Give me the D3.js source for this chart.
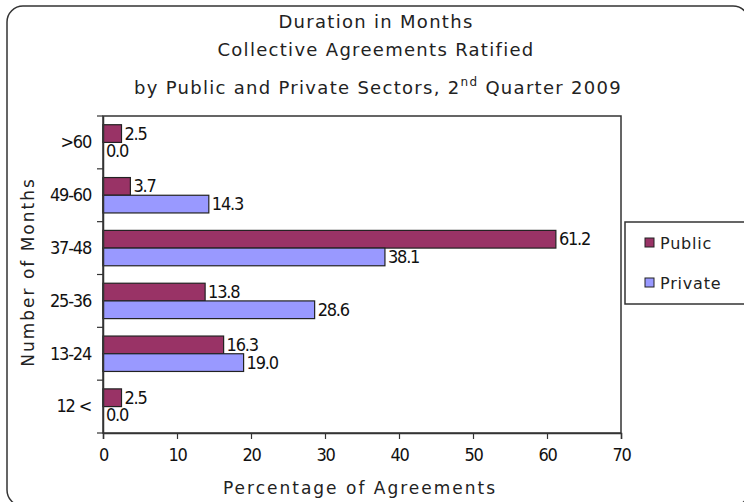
<!DOCTYPE html>
<html>
<head>
<meta charset="utf-8">
<script src="https://cdn.jsdelivr.net/npm/d3@7"></script>
<style>
  html, body { margin: 0; padding: 0; background: #fff; }
  svg { display: block; }
  .title { font-family: "DejaVu Sans", sans-serif; font-size: 18px; letter-spacing: 1.3px; fill: #222; }
  .axis-title { font-family: "DejaVu Sans", sans-serif; font-size: 17px; letter-spacing: 2px; fill: #222; }
  .legend-text { font-family: "DejaVu Sans", sans-serif; font-size: 16px; letter-spacing: 0.8px; fill: #222; }
  .num { font-family: "DejaVu Sans Condensed", "DejaVu Sans", sans-serif; font-stretch: condensed; font-size: 18px; letter-spacing: -1.2px; fill: #111; }
</style>
</head>
<body>
<svg id="chart" width="744" height="502"></svg>
<script>
"use strict";

// categories, top to bottom
const categories = [">60", "49-60", "37-48", "25-36", "13-24", "12 <"];

// percentage of agreements by sector
const publicValues = [2.5, 3.7, 61.2, 13.8, 16.3, 2.5];
const privateValues = [0.0, 14.3, 38.1, 28.6, 19.0, 0.0];

const seriesNames = ["Public", "Private"];
const seriesColors = ["#993366", "#9999ff"];
const xTicks = [0, 10, 20, 30, 40, 50, 60, 70];

const svg = d3.select("#chart");

// plot area
const plot = {left: 103, right: 621, top: 116, bottom: 433};

const x = d3.scaleLinear()
    .domain([0, 70])
    .range([plot.left, plot.right]);

const y = d3.scaleBand()
    .domain(categories)
    .range([plot.top, plot.bottom])
    .paddingInner(0.33)
    .paddingOuter(0.165);

const ySub = d3.scaleBand()
    .domain(seriesNames)
    .range([0, y.bandwidth()]);

// outer chart frame
svg.append("rect")
    .attr("x", 7).attr("y", 6)
    .attr("width", 742).attr("height", 500)
    .attr("rx", 16)
    .attr("fill", "#fff")
    .attr("stroke", "#333")
    .attr("stroke-width", 1.5);

// titles
const title = svg.append("text")
    .attr("class", "title")
    .attr("text-anchor", "middle");
title.append("tspan").attr("x", 376).attr("y", 28).text("Duration in Months");
title.append("tspan").attr("x", 376).attr("y", 56).text("Collective Agreements Ratified");
const t3 = title.append("tspan").attr("x", 378).attr("y", 94);
t3.append("tspan").text("by Public and Private Sectors, 2");
t3.append("tspan").attr("dy", -8).attr("font-size", 12).text("nd");
t3.append("tspan").attr("dy", 8).text(" Quarter 2009");

svg.append("text")
    .attr("class", "axis-title")
    .attr("text-anchor", "middle")
    .attr("x", 360).attr("y", 494)
    .text("Percentage of Agreements");

svg.append("text")
    .attr("class", "axis-title")
    .attr("text-anchor", "middle")
    .attr("transform", "translate(34,272) rotate(-90)")
    .text("Number of Months");

// plot frame
svg.append("rect")
    .attr("x", plot.left).attr("y", plot.top)
    .attr("width", plot.right - plot.left)
    .attr("height", plot.bottom - plot.top)
    .attr("fill", "#fff")
    .attr("stroke", "#333")
    .attr("stroke-width", 1.5);

// bars
const rows = categories.map((c, i) => ({cat: c, values: [publicValues[i], privateValues[i]]}));

const groups = svg.append("g")
    .selectAll("g")
    .data(rows)
    .join("g")
    .attr("transform", (d) => `translate(0,${y(d.cat)})`);

groups.selectAll("rect")
    .data((d) => d.values.map((v, j) => ({v, s: seriesNames[j], j})))
    .join("rect")
    .filter((d) => d.v > 0)
    .attr("x", x(0))
    .attr("y", (d) => ySub(d.s))
    .attr("width", (d) => x(d.v) - x(0))
    .attr("height", ySub.bandwidth())
    .attr("fill", (d) => seriesColors[d.j])
    .attr("stroke", "#222")
    .attr("stroke-width", 1.2);

groups.selectAll("text")
    .data((d) => d.values.map((v, j) => ({v, s: seriesNames[j]})))
    .join("text")
    .attr("class", "num")
    .attr("x", (d) => x(d.v) + 3)
    .attr("y", (d) => ySub(d.s) + ySub.bandwidth() / 2 + 6)
    .text((d) => d.v.toFixed(1));

// x axis
const xAxis = svg.append("g")
    .attr("transform", `translate(0,${plot.bottom})`)
    .call(d3.axisBottom(x).tickValues(xTicks).tickSize(6).tickPadding(9).tickFormat(d3.format("d")));
xAxis.select(".domain").attr("stroke", "#333").attr("stroke-width", 1.5);
xAxis.selectAll(".tick line").attr("stroke", "#333").attr("stroke-width", 1.2);
xAxis.selectAll(".tick text").attr("class", "num").attr("font-family", null).attr("font-size", null);

// y axis: labels centred on categories, ticks between categories
const yAxis = svg.append("g")
    .attr("transform", `translate(${plot.left},0)`)
    .call(d3.axisLeft(y).tickSize(0).tickPadding(12));
yAxis.select(".domain").attr("stroke", "#333").attr("stroke-width", 1.5);
yAxis.selectAll(".tick text").attr("class", "num").attr("font-family", null).attr("font-size", null);

const boundaries = d3.range(categories.length + 1).map((i) => plot.top + i * y.step());
svg.append("g")
    .selectAll("line")
    .data(boundaries)
    .join("line")
    .attr("x1", plot.left - 6).attr("x2", plot.left)
    .attr("y1", (d) => Math.min(d, plot.bottom)).attr("y2", (d) => Math.min(d, plot.bottom))
    .attr("stroke", "#333")
    .attr("stroke-width", 1.2);

// legend
const legend = svg.append("g").attr("transform", "translate(625,222)");
legend.append("rect")
    .attr("width", 125).attr("height", 82)
    .attr("fill", "#fff")
    .attr("stroke", "#333")
    .attr("stroke-width", 1.5);
const items = legend.selectAll("g")
    .data(seriesNames)
    .join("g")
    .attr("transform", (d, i) => `translate(20,${21 + i * 40})`);
items.append("rect")
    .attr("x", 0).attr("y", -5)
    .attr("width", 9).attr("height", 9)
    .attr("fill", (d, i) => seriesColors[i])
    .attr("stroke", "#222");
items.append("text")
    .attr("class", "legend-text")
    .attr("x", 15).attr("y", 6)
    .text((d) => d);
</script>
</body>
</html>
